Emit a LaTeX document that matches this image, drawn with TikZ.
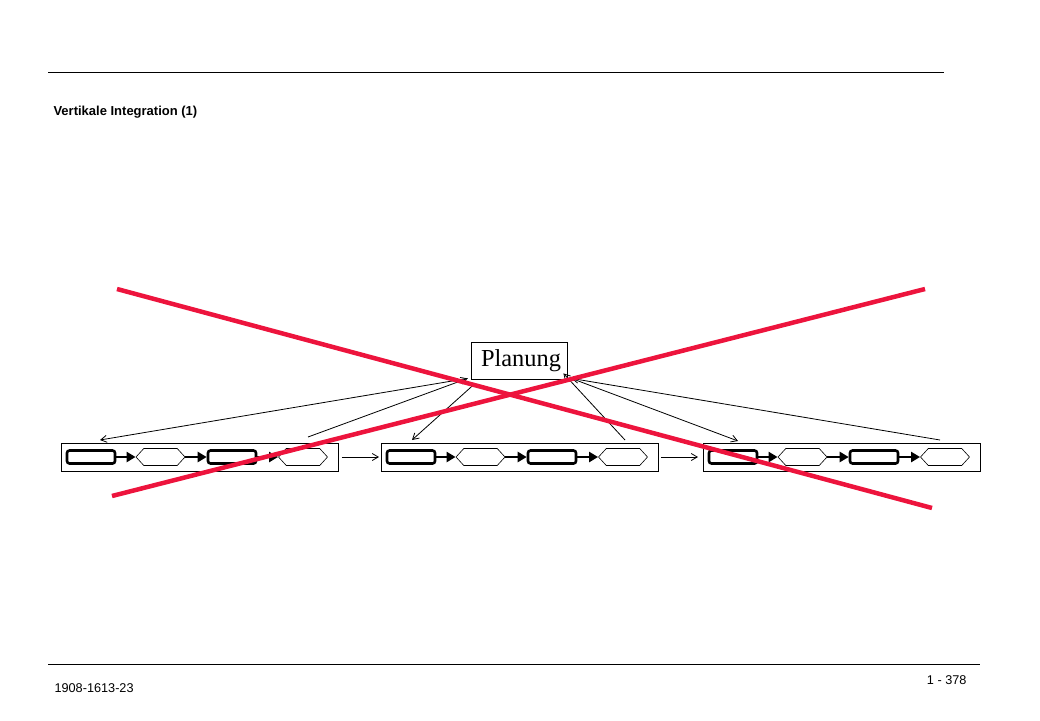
\documentclass[tikz,border=0pt]{standalone}
\usepackage{fontspec}
\setmainfont{Liberation Sans}
\newfontfamily\planfont{Liberation Serif}
\usetikzlibrary{shapes.symbols,arrows.meta}
\definecolor{crossred}{RGB}{237,20,61}
\tikzset{
  groupbox/.style={draw, line width=0.8pt, minimum width=277pt, minimum height=28pt, inner sep=0pt},
  stepbox/.style={draw, line width=2.6pt, rounded corners=2.5pt, minimum width=48pt, minimum height=13pt, inner sep=0pt},
  hexbox/.style={draw, line width=0.6pt, signal, signal to=east and west, signal pointer angle=95,
    minimum width=49pt, minimum height=17pt, inner sep=0pt},
  steparrow/.style={-{Triangle[length=9pt,width=10pt]}, line width=2.6pt},
  flowarrow/.style={-{Straight Barb[length=6pt,width=7pt]}, line width=0.8pt},
  planbox/.style={draw, line width=0.8pt, minimum width=96pt, minimum height=37pt, inner sep=0pt,
    font=\planfont\fontsize{24.4}{28}\selectfont},
}
\begin{document}
\begin{tikzpicture}[x=1pt,y=-1pt]
\useasboundingbox (0,0) rectangle (1040,720);
% header and footer
\draw [line width=0.9pt] (48,72) -- (944,72);
\draw [line width=0.9pt] (48,664) -- (980,664);
\node [anchor=west, font=\bfseries\fontsize{13}{15}\selectfont] (title) at (50,112) {Vertikale Integration (1)};
\node [anchor=west, font=\fontsize{12.7}{14}\selectfont] (docno) at (51,688) {1908-1613-23};
\node [anchor=east, font=\fontsize{12.7}{14}\selectfont] (pageno) at (970,680) {1 - 378};
% three process chains
\foreach \g/\x in {1/61,2/381,3/703}{
  \node [groupbox, anchor=west] (g\g) at (\x,457) {};
  \node [stepbox] (g\g-r1) at (\x+30,457) {};
  \node [hexbox] (g\g-h1) at (\x+99.5,457) {};
  \node [stepbox] (g\g-r2) at (\x+171,457) {};
  \node [hexbox] (g\g-h2) at (\x+242,457) {};
  \draw [steparrow] (g\g-r1) -- (g\g-h1);
  \draw [steparrow] (g\g-h1) -- (g\g-r2);
  \draw [steparrow] (g\g-r2) -- (g\g-h2);
}
\draw [flowarrow, shorten <=3pt, shorten >=2pt] (g1) -- (g2);
\draw [flowarrow, shorten <=2pt, shorten >=5pt] (g2) -- (g3);
% planning box and its links
\node [planbox] (plan) at (519,360.5) {\raisebox{-2pt}{\hspace{4pt}Planung}};
\coordinate (g1-in) at (100,440);
\coordinate (g1-out) at (308,437);
\coordinate (g2-in) at (412,440);
\coordinate (g2-out) at (625,440);
\coordinate (g3-in) at (738,441);
\coordinate (g3-out) at (940,440);
\draw [flowarrow] ([xshift=-3pt,yshift=1pt]plan.south west) -- (g1-in);
\draw [flowarrow] (g1-out) -- ([xshift=-3pt,yshift=1pt]plan.south west);
\draw [flowarrow, shorten <=7pt] ([xshift=9pt]plan.south west) -- (g2-in);
\draw [flowarrow] (g2-out) -- ([xshift=-4pt,yshift=6pt]plan.south east);
\draw [flowarrow] ([xshift=4pt,yshift=1pt]plan.south east) -- (g3-in);
\draw [flowarrow] (g3-out) -- ([xshift=4pt,yshift=1pt]plan.south east);
% the red cross
\draw [crossred, line width=4.5pt] (117,289) -- (932,508);
\draw [crossred, line width=4.5pt] (112,496) -- (925,289);
\end{tikzpicture}
\end{document}
